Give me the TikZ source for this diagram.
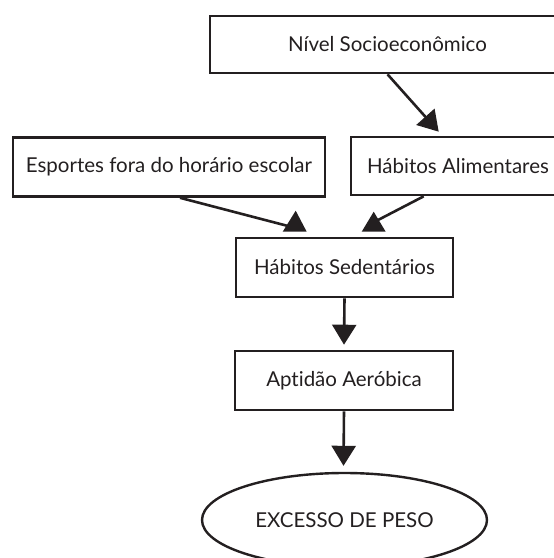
\documentclass[tikz,border=0pt]{standalone}
\usepackage{fontspec}
\setmainfont{Lato}[Ligatures=NoCommon]
\usetikzlibrary{arrows.meta,calc,shapes.geometric}
\definecolor{ink}{HTML}{231F20}
\tikzset{
  boxnode/.style={draw=ink,line width=2.6pt,rectangle,inner sep=0pt,text=ink,font=\fontsize{20.5}{24}\selectfont},
  ovalnode/.style={draw=ink,line width=2.4pt,ellipse,inner sep=0pt,text=ink,font=\fontsize{20.5}{24}\selectfont},
  conn/.style={draw=ink,line width=2.6pt},
  tipconn/.style={conn,-{Triangle[length=20pt,width=24pt]}},
  headfill/.style={fill=ink}
}
\begin{document}
\begin{tikzpicture}[x=1pt,y=-1pt]
\useasboundingbox (0,0) rectangle (554,558);
\node[boxnode,minimum width=355pt,minimum height=57pt] (niv) at (387.5,44.5) {Nível Socioeconômico};
\node[boxnode,minimum width=214pt,minimum height=58pt] (ali) at (458,166) {Hábitos Alimentares};
\node[boxnode,minimum width=312pt,minimum height=59pt] (esp) at (169,167) {Esportes fora do horário escolar};
\node[boxnode,minimum width=217pt,minimum height=59pt] (sed) at (344.5,267.5) {Hábitos Sedentários};
\node[boxnode,minimum width=218pt,minimum height=59pt] (apt) at (344,380.5) {Aptidão Aeróbica};
\node[ovalnode,minimum width=285pt,minimum height=94pt] (exc) at (344.5,520) {EXCESSO DE PESO};
% tips
\coordinate (t1) at ($(ali.north west)+(89,-4)$);
\coordinate (t2) at ($(sed.north west)+(56,-10)$);
\coordinate (t3) at ($(sed.north west)+(142,-16)$);
\coordinate (t4) at ($(apt.north)+(0,-5)$);
\coordinate (t5) at ($(exc.north)+(-1,-6)$);
\draw[tipconn] (niv.south) -- (t1);
\draw[conn] ($(esp.south)+(11,0)$) -- (t2);
\draw[conn] ($(ali.south west)+(74,0)$) -- (t3);
\draw[tipconn] (sed.south) -- (t4);
\draw[tipconn] (apt.south) -- (t5);
% upright arrow heads
\fill[headfill] ($(sed.north west)+(61,-26)$) -- ($(sed.north west)+(48,-5)$) -- ($(sed.north west)+(72,-5)$) -- cycle;
\fill[headfill] ($(sed.north west)+(139,-25)$) -- ($(sed.north west)+(127,-5)$) -- ($(sed.north west)+(151,-5)$) -- cycle;
\end{tikzpicture}
\end{document}
